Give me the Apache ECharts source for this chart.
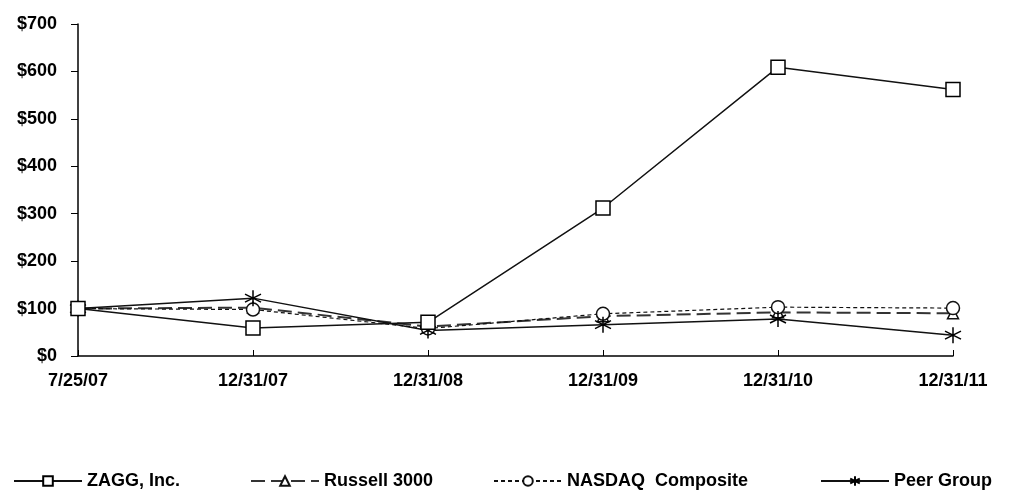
<!DOCTYPE html>
<html><head><meta charset="utf-8">
<script src="https://cdn.jsdelivr.net/npm/echarts@6/dist/echarts.min.js"></script>
<style>html,body{margin:0;padding:0;background:#fff}#c{width:1018px;height:491px}</style>
</head><body><div id="c"></div>
<script>
const categories = ['7/25/07','12/31/07','12/31/08','12/31/09','12/31/10','12/31/11'];
const zagg = [100, 59, 71, 312, 609, 562];
const russell = [100, 102, 62, 84, 92, 90];
const nasdaq = [100, 98, 58, 89, 103, 101];
const peer = [100, 122, 54, 66, 78, 44];
const yTicks = [0, 100, 200, 300, 400, 500, 600, 700];

const FONT = '"Liberation Sans", Arial, sans-serif';
const star = 'path://M0,-10L0,10M-8.66,-5L8.66,5M-8.66,5L8.66,-5';
const chart = echarts.init(document.getElementById('c'));
const txt = {color:'#000', fontFamily: FONT, fontWeight:'bold', fontSize:18};
function legend(name, left){
  return {data:[name], left:left, top:470, padding:[2,2], itemWidth:68, itemHeight:12, textStyle:Object.assign({}, txt, {fontSize:18}), itemGap:4};
}
chart.setOption({
  animation:false,
  backgroundColor:'#fff',
  grid:{left:78, right:65, top:24, bottom:135, containLabel:false},
  legend:[legend('ZAGG, Inc.',11), legend('Russell 3000',248), legend('NASDAQ  Composite',491), legend('Peer Group',818)],
  xAxis:{type:'category', data:categories, boundaryGap:false,
    axisLine:{lineStyle:{color:'#000', width:1.5}},
    axisTick:{inside:true, length:6, lineStyle:{color:'#000'}},
    axisLabel:Object.assign({margin:16}, txt)},
  yAxis:{type:'value', min:yTicks[0], max:yTicks[yTicks.length-1], interval:100,
    axisLine:{show:true, lineStyle:{color:'#000', width:1.5}},
    axisTick:{show:true, length:7, lineStyle:{color:'#000'}},
    splitLine:{show:false},
    axisLabel:Object.assign({margin:21, formatter:v=>'$'+v}, txt)},
  series:[
    {name:'ZAGG, Inc.', type:'line', data:zagg, symbol:'rect', symbolSize:14,
     lineStyle:{color:'#111', width:1.5}, itemStyle:{color:'#fff', borderColor:'#000', borderWidth:1.5}, z:5},
    {name:'Russell 3000', type:'line', data:russell, symbol:'triangle', symbolSize:11,
     lineStyle:{color:'#333', width:2, type:[14,6]}, itemStyle:{color:'#fff', borderColor:'#111', borderWidth:1.5}},
    {name:'NASDAQ  Composite', type:'line', data:nasdaq, symbol:'circle', symbolSize:13,
     lineStyle:{color:'#111', width:1.2, type:[4,3]}, itemStyle:{color:'#fff', borderColor:'#111', borderWidth:1.5}},
    {name:'Peer Group', type:'line', data:peer, symbol:star, symbolSize:16,
     lineStyle:{color:'#111', width:1.5}, itemStyle:{color:'none', borderColor:'#000', borderWidth:1.5}}
  ]
});
</script></body></html>
